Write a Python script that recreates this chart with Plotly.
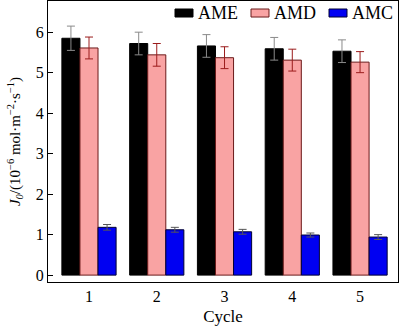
import plotly.graph_objects as go

cycles = [1, 2, 3, 4, 5]
tick_labels = ["1", "2", "3", "4", "5"]
ame = [5.85, 5.72, 5.66, 5.59, 5.53]
ame_err = [0.30, 0.28, 0.28, 0.28, 0.28]
amd = [5.61, 5.44, 5.37, 5.31, 5.26]
amd_err = [0.27, 0.28, 0.27, 0.27, 0.26]
amc = [1.18, 1.12, 1.07, 0.99, 0.94]
amc_err = [0.07, 0.06, 0.06, 0.05, 0.06]

names = ["AME", "AMD", "AMC"]
fills = ["#000000", "#F9A3A3", "#0000F2"]
outlines = ["#000000", "#6b1a1a", "#000033"]
err_colors = ["#8a8a8a", "#9b1c1c", "#555555"]

font = "Liberation Serif"

fig = go.Figure()
for vals, errs, name, fc, oc, ec in zip([ame, amd, amc], [ame_err, amd_err, amc_err],
                                        names, fills, outlines, err_colors):
    fig.add_trace(go.Bar(x=cycles, y=vals, name=name,
                         marker=dict(color=fc, line=dict(color=oc, width=1)),
                         error_y=dict(type="data", array=errs, color=ec, thickness=1, width=4)))

# custom legend (wide swatches like the reference)
leg_sw_x = [0.3629, 0.58, 0.8029]
sw_w = 0.0514
for x0, name, fc, oc in zip(leg_sw_x, names, fills, outlines):
    fig.add_shape(type="rect", xref="paper", yref="paper",
                  x0=x0, x1=x0 + sw_w, y0=0.943, y1=0.9715,
                  fillcolor=fc, line=dict(color=oc, width=1))
    fig.add_annotation(xref="paper", yref="paper", x=x0 + sw_w + 0.008, y=0.957,
                       text=name, showarrow=False, xanchor="left", yanchor="middle",
                       font=dict(family=font, size=18, color="black"))

fig.update_layout(
    width=400, height=327,
    margin=dict(l=48, r=2, t=1, b=45),
    paper_bgcolor="white", plot_bgcolor="white",
    barmode="group", bargap=0.2, bargroupgap=0,
    font=dict(family=font, size=16, color="black"),
    showlegend=False,
    xaxis=dict(range=[0.395, 5.56], tickvals=cycles, ticktext=tick_labels,
               showline=True, linecolor="black", linewidth=1, mirror=True,
               ticks="", showgrid=False, zeroline=False,
               title=dict(text="Cycle", standoff=5, font=dict(family=font, size=17)),
               tickfont=dict(family=font, size=16)),
    yaxis=dict(range=[-0.17, 6.77], tickvals=[0, 1, 2, 3, 4, 5, 6],
               showline=True, linecolor="black", linewidth=1, mirror=True,
               ticks="inside", ticklen=5, tickcolor="black",
               showgrid=False, zeroline=False,
               title=dict(text="<i>J</i><sub><i>0</i></sub>/(10<sup>−6</sup> mol·m<sup>−2</sup>·s<sup>−1</sup>)",
                          standoff=11, font=dict(family=font, size=15)),
               tickfont=dict(family=font, size=16)),
)

fig.write_html("out.html")
